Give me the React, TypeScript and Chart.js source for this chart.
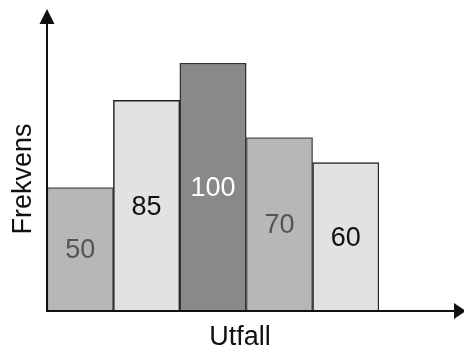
import React, { useEffect, useRef } from "react";
import { Chart, registerables } from "chart.js";

Chart.register(...registerables);

const categories = ["1", "2", "3", "4", "5"];
const frequencies = [50, 85, 100, 70, 60];
const fillColors = ["#b7b7b7", "#e2e2e2", "#898989", "#b7b7b7", "#e2e2e2"];
const edgeColors = ["#555555", "#222222", "#333333", "#555555", "#222222"];
const labelColors = ["#555555", "#111111", "#ffffff", "#555555", "#111111"];
const xTitle = "Utfall";
const yTitle = "Frekvens";

const FONT = '"Liberation Sans", Arial, Helvetica, sans-serif';

const axesAndLabels = {
  id: "axesAndLabels",
  afterDatasetsDraw(chart: any) {
    const { ctx, chartArea } = chart;
    const meta = chart.getDatasetMeta(0);
    const yScale = chart.scales.y;
    const base = yScale.getPixelForValue(0);

    // value labels centred inside each bar
    ctx.save();
    ctx.font = `27px ${FONT}`;
    ctx.textAlign = "center";
    ctx.textBaseline = "middle";
    meta.data.forEach((bar: any, i: number) => {
      const mid = (bar.y + base) / 2;
      ctx.fillStyle = labelColors[i];
      ctx.fillText(String(frequencies[i]), bar.x, mid + 1);
    });
    ctx.restore();

    // axes with arrowheads
    const ax = chartArea.left;
    const ay = base - 1;
    ctx.save();
    ctx.strokeStyle = "#111111";
    ctx.fillStyle = "#111111";
    ctx.lineWidth = 2;
    ctx.beginPath();
    ctx.moveTo(ax, ay + 1);
    ctx.lineTo(ax, 22);
    ctx.moveTo(ax - 1, ay);
    ctx.lineTo(chart.width - 8, ay);
    ctx.stroke();
    // up arrow
    ctx.beginPath();
    ctx.moveTo(ax, 9);
    ctx.lineTo(ax - 7.5, 24);
    ctx.lineTo(ax + 7.5, 24);
    ctx.closePath();
    ctx.fill();
    // right arrow
    ctx.beginPath();
    ctx.moveTo(chart.width + 2, ay);
    ctx.lineTo(chart.width - 10, ay - 8);
    ctx.lineTo(chart.width - 10, ay + 8);
    ctx.closePath();
    ctx.fill();
    ctx.restore();

    // axis titles
    ctx.save();
    ctx.fillStyle = "#111111";
    ctx.font = `27px ${FONT}`;
    ctx.textAlign = "center";
    ctx.textBaseline = "middle";
    ctx.fillText(xTitle, 240, ay + 27);
    ctx.translate(24, 179);
    ctx.rotate(-Math.PI / 2);
    ctx.fillText(yTitle, 0, 0);
    ctx.restore();
  },
};

export default function App() {
  const canvasRef = useRef<HTMLCanvasElement | null>(null);

  useEffect(() => {
    const canvas = canvasRef.current;
    if (!canvas) return;
    const chart = new Chart(canvas, {
      type: "bar",
      data: {
        labels: categories,
        datasets: [
          {
            data: frequencies,
            backgroundColor: fillColors,
            borderColor: edgeColors,
            borderWidth: 1.5,
            borderSkipped: "bottom",
            categoryPercentage: 1,
            barPercentage: 1,
          },
        ],
      },
      options: {
        responsive: false,
        animation: false,
        devicePixelRatio: 1,
        layout: { padding: { left: 47, top: 63, right: 85, bottom: 40 } },
        plugins: {
          legend: { display: false },
          tooltip: { enabled: false },
        },
        scales: {
          x: { display: false },
          y: { display: false, min: 0, max: 100 },
        },
      },
      plugins: [axesAndLabels],
    });
    return () => chart.destroy();
  }, []);

  return (
    <div style={{ position: "absolute", left: 0, top: 0, width: 464, height: 352, background: "#ffffff" }}>
      <canvas ref={canvasRef} width={464} height={352} style={{ display: "block" }} />
    </div>
  );
}
